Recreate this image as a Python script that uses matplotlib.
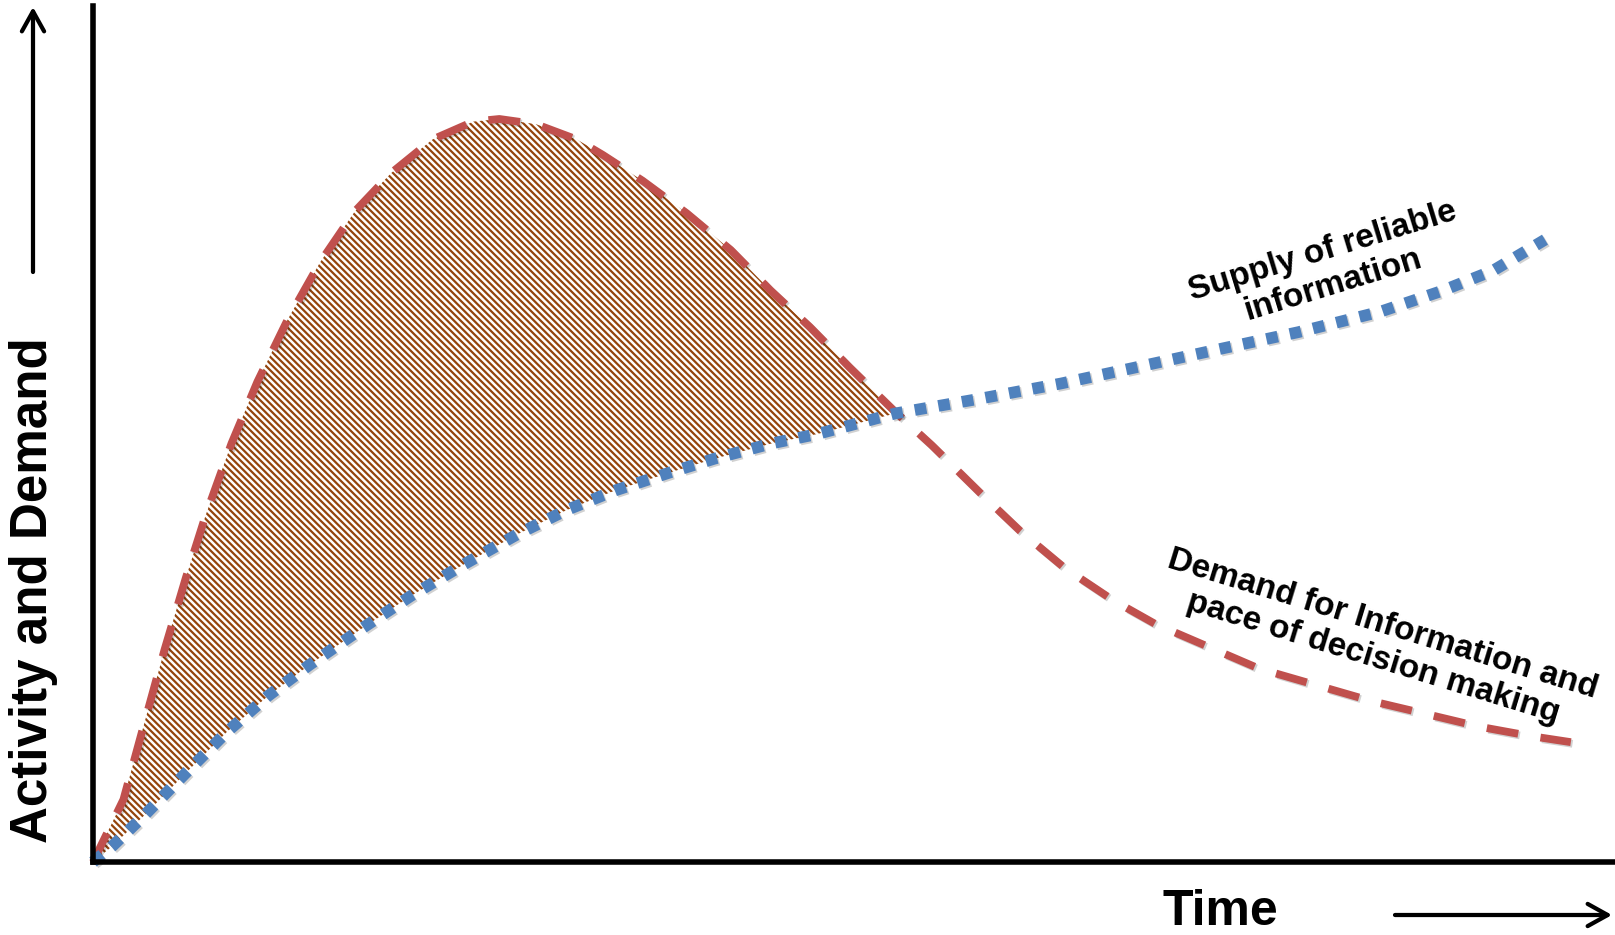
import matplotlib
matplotlib.use("Agg")
import matplotlib.pyplot as plt
import matplotlib.patheffects as pe
from matplotlib.patches import FancyArrowPatch

# Demand for information and pace of decision making (red dashed)
demand_t = [0, 2.0, 3.4, 4.7, 6.1, 7.4, 9.1, 10.8, 12.8, 14.9, 17.2, 19.6, 22.3,
            25.0, 26.7, 29.1, 31.8, 33.5, 36.1, 39.0, 41.9, 44.5, 47.1, 49.7, 52.7,
            55.1, 58.3, 60.9, 63.8, 67.0, 69.8, 73.2, 76.6, 80.3, 84.0, 87.8, 91.1,
            94.5, 97.1]
demand = [0, 7.3, 16.4, 24.8, 33.2, 40.5, 48.9, 56.1, 63.4, 70.0, 76.0, 80.5, 84.4,
          86.5, 86.8, 86.2, 84.4, 82.6, 79.6, 75.8, 71.5, 66.8, 62.5, 57.8, 52.6,
          48.7, 43.1, 38.7, 34.4, 30.6, 27.8, 25.2, 22.6, 20.7, 18.8, 17.2, 15.8,
          14.7, 14.0]

# Supply of reliable information (blue dotted)
supply_t = [0, 1.3, 3.4, 6.1, 8.8, 11.5, 14.2, 17.6, 20.9, 24.3, 27.9, 31.1, 34.3,
            37.9, 40.8, 44.6, 47.6, 52.7, 58.2, 63.6, 68.3, 73.7, 79.2, 84.6, 88.6,
            92.0, 95.4]
supply = [0, 1.9, 5.5, 10.4, 15.2, 19.4, 23.0, 27.2, 31.1, 34.7, 38.3, 41.1, 43.4,
          45.5, 47.1, 48.9, 50.0, 52.4, 54.1, 55.9, 57.7, 59.8, 61.9, 64.3, 66.7,
          69.1, 72.7]

cross_t = 52.7  # where the two curves meet

red = '#c0504d'
blue = '#4f81bd'
brown = '#94440c'
font = 'Liberation Sans'

DPI = 80
W, H = 1615, 935
plt.rcParams['hatch.linewidth'] = 2.0
fig = plt.figure(figsize=(W / DPI, H / DPI), dpi=DPI)
ax = fig.add_axes([93 / W, 1 - 862 / H, 1 - 93 / W, (862 - 6) / H])
ax.set_xlim(0, 100)
ax.set_ylim(0, 100)
ax.set_xticks([])
ax.set_yticks([])
for s in ['top', 'right']:
    ax.spines[s].set_visible(False)
for s in ['left', 'bottom']:
    ax.spines[s].set_linewidth(5)
    ax.spines[s].set_color('black')
    ax.spines[s].set_zorder(5)

# gap between demand and supply, hatched
poly_t = [t for t in demand_t if t <= cross_t] + [t for t in supply_t[::-1] if t <= cross_t]
poly_y = ([y for t, y in zip(demand_t, demand) if t <= cross_t]
          + [y for t, y in zip(supply_t[::-1], supply[::-1]) if t <= cross_t])
ax.fill(poly_t, poly_y, facecolor='none', edgecolor=brown, hatch='\\' * 4, linewidth=0, zorder=1)

shadow = [pe.SimpleLineShadow(offset=(1.5, -1.5), shadow_color='k', alpha=0.18), pe.Normal()]
ax.plot(demand_t, demand, color=red, lw=7, dashes=(4.1, 2.9), dash_capstyle='butt',
        clip_on=False, zorder=3, path_effects=shadow)
ax.plot(supply_t, supply, color=blue, lw=10.5, dashes=(1, 1.05), dash_capstyle='butt',
        clip_on=False, zorder=4, path_effects=shadow)

# curve labels
fig.text(1328 / W, 1 - 268 / H, 'Supply of reliable\ninformation', rotation=17,
         ha='center', va='center', multialignment='center', fontsize=30,
         weight='bold', family=font, linespacing=1.15)
fig.text(1378 / W, 1 - 641 / H, 'Demand for Information and\npace of decision making',
         rotation=-17, ha='center', va='center', multialignment='center', fontsize=30,
         weight='bold', family=font, linespacing=1.15)

# axis titles with arrows
fig.text(34 / W, 1 - 590 / H, 'Activity and Demand', rotation=90, ha='center',
         va='center', fontsize=46, weight='bold', family=font)
fig.text(1220 / W, 0, 'Time', ha='center', va='bottom', fontsize=45,
         weight='bold', family=font)

for p0, p1 in [((33, 272), (33, 7)), ((1395, 915), (1612, 915))]:
    arr = FancyArrowPatch((p0[0] / W, 1 - p0[1] / H), (p1[0] / W, 1 - p1[1] / H),
                          transform=fig.transFigure, arrowstyle='->,head_length=18,head_width=10',
                          mutation_scale=1, lw=3.8, color='black', shrinkA=0, shrinkB=0)
    fig.patches.append(arr)

fig.savefig('out.png', dpi=DPI)
